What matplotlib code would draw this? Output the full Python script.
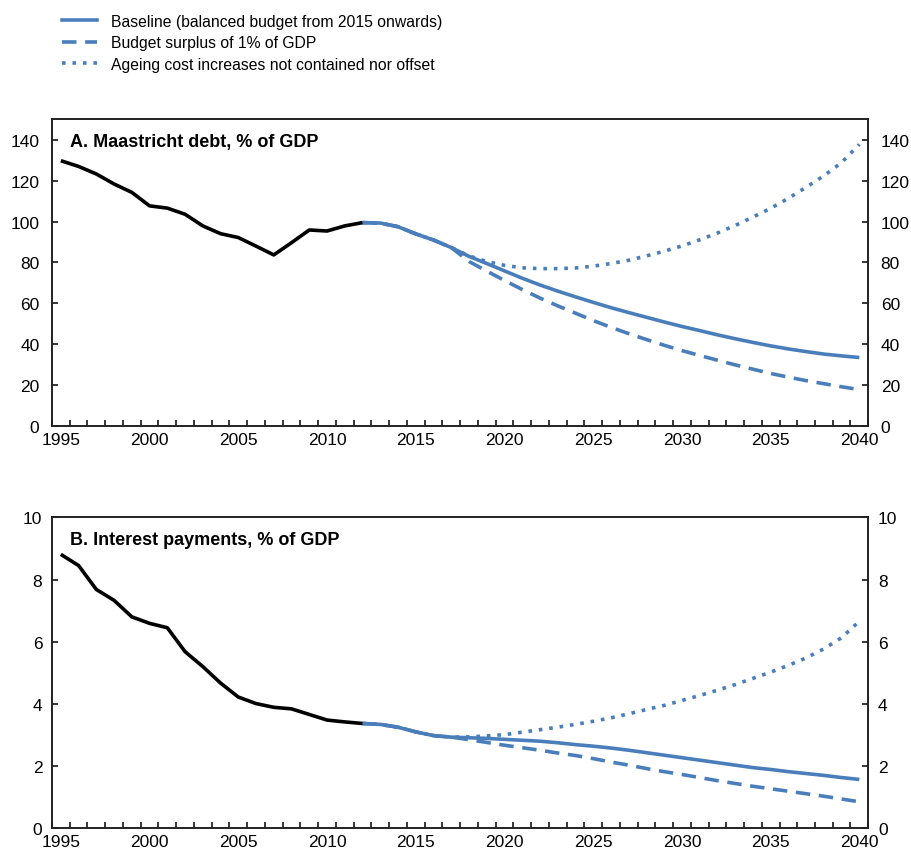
import matplotlib
matplotlib.use("Agg")
import matplotlib.pyplot as plt
from matplotlib.lines import Line2D
from matplotlib.ticker import MultipleLocator

plt.rcParams['font.family'] = ['Liberation Sans', 'DejaVu Sans']

BLUE = '#4A7EBB'

# observed history
hist_years = list(range(1995, 2013))
debt_hist = [129.8, 127.0, 123.3, 118.4, 114.3, 107.7, 106.6, 103.6, 97.9,
             94.1, 92.2, 88.0, 83.7, 89.7, 95.9, 95.4, 97.9, 99.5]
interest_hist = [8.81, 8.45, 7.68, 7.33, 6.80, 6.59, 6.45, 5.68, 5.20,
                 4.67, 4.22, 4.01, 3.89, 3.84, 3.66, 3.48, 3.42, 3.37]

# projections (common path up to 2017, scenarios split afterwards)
proj_years = list(range(2012, 2041))
debt_base = [99.5, 99.3, 97.5, 94.0, 91.0, 87.3, 83.0, 79.5, 75.9, 72.3,
             69.0, 66.0, 63.2, 60.5, 57.9, 55.5, 53.2, 50.9, 48.7, 46.7,
             44.6, 42.7, 40.9, 39.2, 37.7, 36.4, 35.2, 34.3, 33.5]
debt_surplus = [99.5, 99.3, 97.5, 94.0, 91.0, 87.3, 80.5, 75.8, 71.2, 66.8,
                62.6, 58.8, 55.2, 51.6, 48.3, 45.2, 42.3, 39.5, 36.9, 34.5,
                32.2, 29.9, 27.8, 25.7, 23.9, 22.2, 20.7, 19.2, 17.8]
debt_ageing = [99.5, 99.3, 97.5, 94.0, 91.0, 87.3, 83.2, 80.5, 78.6, 77.4,
               77.0, 77.0, 77.3, 78.2, 79.5, 81.1, 83.2, 85.5, 88.1, 91.1,
               94.4, 98.1, 102.2, 106.5, 111.4, 116.8, 122.4, 128.9, 137.8]

interest_base = [3.37, 3.34, 3.25, 3.10, 2.98, 2.93, 2.91, 2.89, 2.86, 2.83,
                 2.80, 2.75, 2.69, 2.64, 2.58, 2.51, 2.43, 2.35, 2.27, 2.19,
                 2.11, 2.03, 1.95, 1.89, 1.82, 1.76, 1.70, 1.63, 1.57]
interest_surplus = [3.37, 3.34, 3.25, 3.10, 2.98, 2.93, 2.85, 2.76, 2.67,
                    2.59, 2.51, 2.42, 2.34, 2.24, 2.13, 2.03, 1.92, 1.82,
                    1.73, 1.63, 1.53, 1.44, 1.35, 1.27, 1.19, 1.11, 1.03,
                    0.94, 0.85]
interest_ageing = [3.37, 3.34, 3.25, 3.10, 2.98, 2.93, 2.94, 2.97, 3.01,
                   3.09, 3.17, 3.25, 3.34, 3.44, 3.55, 3.68, 3.82, 3.95,
                   4.11, 4.27, 4.44, 4.62, 4.82, 5.02, 5.24, 5.48, 5.77,
                   6.13, 6.66]

legend_labels = ['Baseline (balanced budget from 2015 onwards)',
                 'Budget surplus of 1% of GDP',
                 'Ageing cost increases not contained nor offset']

LW = 2.6
DASH = (4, 2.4)
DOT = (1.0, 1.9)


def draw_panel(ax, hist, base, surplus, ageing, title, ymax, ystep, lpad):
    ax.plot(proj_years, surplus, color=BLUE, lw=LW, dashes=DASH)
    ax.plot(proj_years, ageing, color=BLUE, lw=LW, dashes=DOT)
    ax.plot(proj_years, base, color=BLUE, lw=LW, solid_capstyle='butt')
    ax.plot(hist_years, hist, color='black', lw=LW, solid_capstyle='butt')

    ax.set_xlim(1994.5, 2040.5)
    ax.set_ylim(0, ymax)
    ax.xaxis.set_major_locator(MultipleLocator(5))
    ax.xaxis.set_minor_locator(MultipleLocator(1, offset=0.5))
    ax.yaxis.set_major_locator(MultipleLocator(ystep))
    ax.tick_params(axis='x', which='major', length=0, pad=4, labelsize=12.5)
    ax.tick_params(axis='x', which='minor', direction='in', length=4,
                   width=1.1, top=False)
    ax.tick_params(axis='y', direction='in', length=4, width=1.1,
                   left=True, right=True, labelleft=True, labelright=True,
                   labelsize=12.5, pad=lpad)
    for side in ['left', 'right', 'top', 'bottom']:
        ax.spines[side].set_linewidth(1.4)
        ax.spines[side].set_color('#222222')
    ax.text(0.022, 0.928, title, transform=ax.transAxes, fontsize=13,
            fontweight='bold', va='center', ha='left')


fig = plt.figure(figsize=(9.12, 8.54), dpi=100)
ax_a = fig.add_axes([0.057, 0.500, 0.895, 0.359])
ax_b = fig.add_axes([0.057, 0.029, 0.895, 0.364])

draw_panel(ax_a, debt_hist, debt_base, debt_surplus, debt_ageing,
           'A. Maastricht debt, % of GDP', 150, 20, 9)
draw_panel(ax_b, interest_hist, interest_base, interest_surplus,
           interest_ageing, 'B. Interest payments, % of GDP', 10, 2, 7)

handles = [Line2D([], [], color=BLUE, lw=LW),
           Line2D([], [], color=BLUE, lw=LW, dashes=DASH),
           Line2D([], [], color=BLUE, lw=LW, dashes=DOT)]
fig.legend(handles, legend_labels, loc='upper left',
           bbox_to_anchor=(0.068, 0.983), frameon=False, fontsize=11.3,
           handlelength=2.2, handletextpad=0.9, labelspacing=0.42,
           borderpad=0, borderaxespad=0)

fig.savefig('out.png', dpi=100)
